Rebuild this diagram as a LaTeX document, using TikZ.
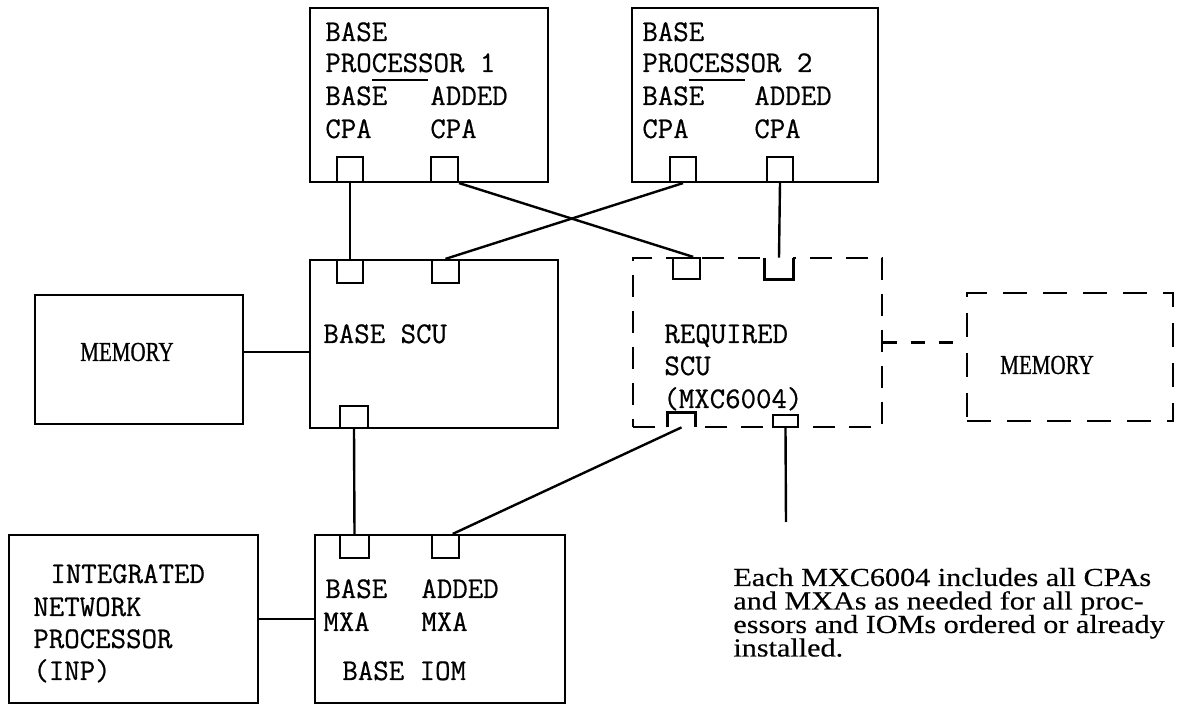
\documentclass[tikz,border=0pt]{standalone}
\usepackage{fontspec}
\usepackage{graphicx}
\newfontfamily\annfont[FakeBold=0.3]{Liberation Serif}
\newfontfamily\memfont[FakeBold=1]{Liberation Serif}
\newfontfamily\typefont[FakeBold=0.6]{Latin Modern Mono}
\usetikzlibrary{fit}
\begin{document}
\begin{tikzpicture}[x=0.5pt,y=-0.5pt,
  box/.style={draw, line width=1.3pt, inner sep=0pt},
  dbox/.style={draw, line width=1.3pt, inner sep=0pt, dash pattern=on 11pt off 7pt},
  mbox/.style={draw, line width=1.3pt, inner sep=0pt, dash pattern=on 12pt off 8pt},
  port/.style={draw, line width=1.1pt, inner sep=0pt},
  hport/.style={draw=none, inner sep=0pt},
  conn/.style={line width=1.2pt},
  dconn/.style={line width=1.2pt, dash pattern=on 7pt off 7pt},
  tt/.style={font=\typefont\fontsize{15}{16}\selectfont, inner sep=0pt, anchor=base west},
  memtext/.style={font=\memfont\fontsize{10.5}{12}\selectfont, inner sep=0pt},
  anntext/.style={font=\annfont\fontsize{13}{14}\selectfont, inner sep=0pt, anchor=base west}]
\useasboundingbox (0,0) rectangle (1185,705);

% ---- main boxes
\node[box, fit={(310,8) (548,182)}] (p1) {};
\node[box, fit={(632,8) (878,182)}] (p2) {};
\node[box, fit={(310,260) (558,428)}] (scu) {};
\node[dbox, fit={(633,258) (882,427)}] (rscu) {};
\node[box, fit={(35,295) (243,424)}] (mem1) {};
\node[mbox, fit={(967,293) (1173,421)}] (mem2) {};
\node[box, fit={(315,535) (565,703)}] (iom) {};
\node[box, fit={(9,535) (258,703)}] (inp) {};

% ---- ports
\node[port, fit={(337,157) (363,182)}] (p1a) {};
\node[port, fit={(431,157) (458,182)}] (p1b) {};
\node[port, fit={(670,157) (696,182)}] (p2a) {};
\node[port, fit={(767,157) (793,182)}] (p2b) {};
\node[port, fit={(337,260) (363,283)}] (scua) {};
\node[port, fit={(432,260) (459,283)}] (scub) {};
\node[port, fit={(340,406) (368,428)}] (scuc) {};
\node[port, fit={(673,258) (700,279)}] (rscua) {};
\node[hport, fit={(765,258) (793,279)}] (rscub) {};
\node[hport, fit={(668,413) (695,427)}] (rscuc) {};
\node[port, fit={(773,415) (798,427)}] (rscud) {};
\node[port, fit={(340,535) (369,558)}] (ioma) {};
\node[port, fit={(432,535) (459,558)}] (iomb) {};

% open-sided ports on the dashed SCU
\fill[white] ([yshift=1.2pt]rscub.north west) rectangle (rscub.south east);
\draw[conn] (rscub.north west) -- (rscub.south west) -- (rscub.south east) -- (rscub.north east);
\fill[white] (rscuc.north west) rectangle ([yshift=-1.2pt]rscuc.south east);
\draw[conn] (rscuc.south west) -- (rscuc.north west) -- (rscuc.north east) -- (rscuc.south east);

% ---- texts
\node[tt] (p1t1) at (325,41) {BASE};
\node[tt] (p1t2) at (325,72) {PRO\rlap{\rule[-4.3pt]{28pt}{0.9pt}}CESSOR 1};
\node[tt] (p1t3) at (325,105) {\makebox[52.5pt][l]{BASE}ADDED};
\node[tt] (p1t4) at (325,138) {\makebox[52.5pt][l]{CPA}CPA};

\node[tt] (p2t1) at (642,41) {BASE};
\node[tt] (p2t2) at (642,72) {PRO\rlap{\rule[-4.3pt]{28pt}{0.9pt}}CESSOR 2};
\node[tt] (p2t3) at (642,105) {\makebox[56pt][l]{BASE}ADDED};
\node[tt] (p2t4) at (642,138) {\makebox[56pt][l]{CPA}CPA};

\node[tt] (scut) at (323,343) {BASE SCU};

\node[tt] (rt1) at (664,343) {REQUIRED};
\node[tt] (rt2) at (664,375) {SCU};
\node[tt] (rt3) at (663,408) {(MXC6004)};

\node[memtext] (m1t) at (127,352) {\scalebox{1}[1.3]{MEMORY}};
\node[memtext] (m2t) at (1047,365) {\scalebox{1}[1.3]{MEMORY}};

\node[tt] (it1) at (325,598) {\makebox[48pt][l]{BASE}ADDED};
\node[tt] (it2) at (323,631) {\makebox[49pt][l]{MXA}MXA};
\node[tt] (it3) at (342,680) {BASE IOM};

\node[tt] (nt1) at (50,583) {INTEGRATED};
\node[tt] (nt2) at (33,616) {NETWORK};
\node[tt] (nt3) at (33,648) {PROCESSOR};
\node[tt] (nt4) at (33,680) {(INP)};

\node[anntext] (a1) at (733,586) {\scalebox{1.16}[1]{Each MXC6004 includes all CPAs}};
\node[anntext] (a2) at (733,609.5) {\scalebox{1.16}[1]{and MXAs as needed for all proc-}};
\node[anntext] (a3) at (733,633) {\scalebox{1.16}[1]{essors and IOMs ordered or already}};
\node[anntext] (a4) at (733,656.5) {\scalebox{1.16}[1]{installed.}};

% ---- connectors
\draw[conn] (p1a.south) -- (scua.north);
\draw[conn] (p1b.south east) -- (rscua.60);
\draw[conn] (p2a.south) -- (scub.north);
\draw[conn] (p2b.south) -- (rscub.north);

\path ([yshift=3.75pt]mem1.east) coordinate (m1c);
\draw[conn] (m1c) -- (m1c -| scu.west);
\draw[dconn] (rscu.east) -- (rscu.east -| mem2.west);

\draw[conn] (scuc.south) -- (ioma.north);
\draw[conn] (rscuc.south) -- (iomb.60);
\draw[conn] (inp.east) -- (inp.east -| iom.west);

\coordinate (annend) at (786,522);
\draw[conn] (rscud.south) -- (annend);
\end{tikzpicture}
\end{document}
